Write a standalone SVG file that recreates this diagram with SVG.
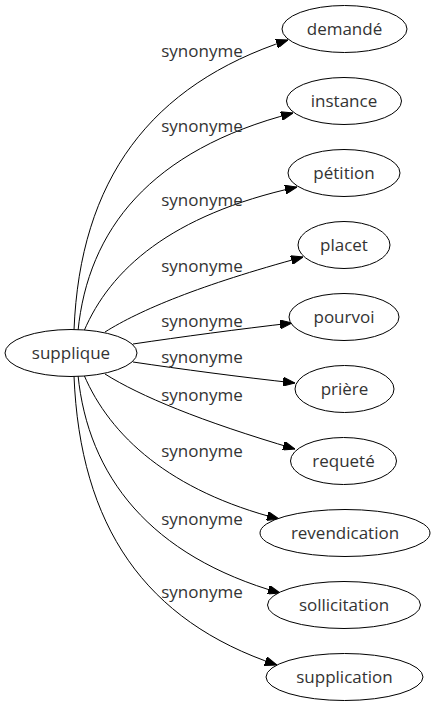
<svg xmlns="http://www.w3.org/2000/svg" width="435" height="707" viewBox="0 0 435 707">
<style>
.n ellipse{fill:#fff;stroke:#000;stroke-width:1}
.n text{font-family:"Open Sans","DejaVu Sans",sans-serif;font-size:17px;fill:#333;text-anchor:middle}
.e path{fill:none;stroke:#000;stroke-width:1;marker-end:url(#ah)}
.e text{font-family:"Open Sans","DejaVu Sans",sans-serif;font-size:17px;fill:#333;text-anchor:middle}
</style>
<defs>
<marker id="ah" markerUnits="userSpaceOnUse" markerWidth="12" markerHeight="9" refX="12" refY="4.5" orient="auto">
<path d="M0,0 L12,4.5 L0,9 z" fill="#000" stroke="#000" stroke-width="1"/>
</marker>
</defs>
<rect width="435" height="707" fill="#fff"/>
<g id="edges" class="e">
<path d="M74,330 C80,180 150,85 288,40"/>
<path d="M78,331 C88,230 150,150 293,113"/>
<path d="M84,331 C110,270 170,215 297,187"/>
<path d="M105,332 C140,310 200,285 303,257"/>
<path d="M133,344 C180,337 240,329 292,323"/>
<path d="M133,362 C180,369 240,377 295,383"/>
<path d="M105,374 C140,396 200,421 295,449"/>
<path d="M84,375 C110,436 170,491 279,519"/>
<path d="M78,375 C88,476 150,556 280,593"/>
<path d="M74,376 C80,526 145,621 277,665"/>
<text x="202" y="57">synonyme</text>
<text x="202" y="132">synonyme</text>
<text x="202" y="206">synonyme</text>
<text x="202" y="272">synonyme</text>
<text x="202" y="327">synonyme</text>
<text x="202" y="363">synonyme</text>
<text x="202" y="401">synonyme</text>
<text x="202" y="457">synonyme</text>
<text x="202" y="525">synonyme</text>
<text x="202" y="598">synonyme</text>
</g>
<g id="supplique" class="n"><ellipse cx="71" cy="353" rx="66" ry="23.5"/><text x="71" y="359">supplique</text></g>
<g id="demande" class="n"><ellipse cx="344.5" cy="29" rx="62.5" ry="23.5"/><text x="344.5" y="35">demandé</text></g>
<g id="instance" class="n"><ellipse cx="344" cy="101" rx="57.5" ry="23.5"/><text x="344" y="107">instance</text></g>
<g id="petition" class="n"><ellipse cx="344" cy="173" rx="56" ry="23.5"/><text x="344" y="179">pétition</text></g>
<g id="placet" class="n"><ellipse cx="344" cy="245" rx="46" ry="23.5"/><text x="344" y="251">placet</text></g>
<g id="pourvoi" class="n"><ellipse cx="344" cy="317" rx="55" ry="23.5"/><text x="344" y="323">pourvoi</text></g>
<g id="priere" class="n"><ellipse cx="344.5" cy="389" rx="49.5" ry="23.5"/><text x="344.5" y="395">prière</text></g>
<g id="requete" class="n"><ellipse cx="343.5" cy="461" rx="53" ry="23.5"/><text x="343.5" y="467">requeté</text></g>
<g id="revendication" class="n"><ellipse cx="345" cy="533" rx="85" ry="23.5"/><text x="345" y="539">revendication</text></g>
<g id="sollicitation" class="n"><ellipse cx="344" cy="605" rx="76.5" ry="23.5"/><text x="344" y="611">sollicitation</text></g>
<g id="supplication" class="n"><ellipse cx="344.5" cy="677" rx="78.5" ry="23.5"/><text x="344.5" y="683">supplication</text></g>
</svg>
